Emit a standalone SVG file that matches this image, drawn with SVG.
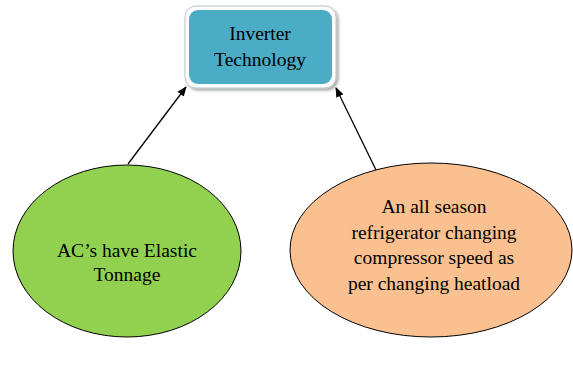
<svg xmlns="http://www.w3.org/2000/svg" width="573" height="367" viewBox="0 0 573 367">
  <defs>
    <marker id="arrow" markerWidth="10" markerHeight="10" refX="9" refY="5" orient="auto" markerUnits="userSpaceOnUse">
      <path d="M0,1 L10,5 L0,9 Z" fill="#000"/>
    </marker>
    <filter id="shadow" x="-10%" y="-10%" width="130%" height="140%">
      <feDropShadow dx="2" dy="2" stdDeviation="1.5" flood-color="#000" flood-opacity="0.35"/>
    </filter>
  </defs>
  <style>
    text { font-family: "Liberation Serif", "DejaVu Serif", serif; font-size: 19.5px; fill: #000; text-anchor: middle; }
    .edge { stroke: #000; stroke-width: 1.3; fill: none; marker-end: url(#arrow); }
    .ell { stroke: #000; stroke-width: 1; }
  </style>
  <rect width="573" height="367" fill="#fff"/>

  <g id="connectors">
    <line class="edge" x1="128" y1="164" x2="186" y2="87"/>
    <line class="edge" x1="377" y1="172" x2="336" y2="88"/>
  </g>

  <g id="inverter">
    <rect x="185" y="6" width="151" height="82" rx="11" fill="#fff" stroke="#b8c4c8" stroke-width="1" filter="url(#shadow)"/>
    <rect x="189" y="10" width="143" height="74" rx="9" fill="#4bacc6"/>
    <text x="260" y="40">Inverter</text>
    <text x="260" y="66">Technology</text>
  </g>

  <g id="elastic">
    <ellipse class="ell" cx="127" cy="251" rx="114" ry="86" fill="#92d050"/>
    <text x="127" y="257" textLength="140" lengthAdjust="spacingAndGlyphs">AC’s have Elastic</text>
    <text x="127" y="281">Tonnage</text>
  </g>

  <g id="season">
    <ellipse class="ell" cx="431" cy="250" rx="141" ry="87" fill="#fac090"/>
    <text x="434" y="213">An all season</text>
    <text x="434" y="239">refrigerator changing</text>
    <text x="434" y="264">compressor speed as</text>
    <text x="434" y="290">per changing heatload</text>
  </g>
</svg>
